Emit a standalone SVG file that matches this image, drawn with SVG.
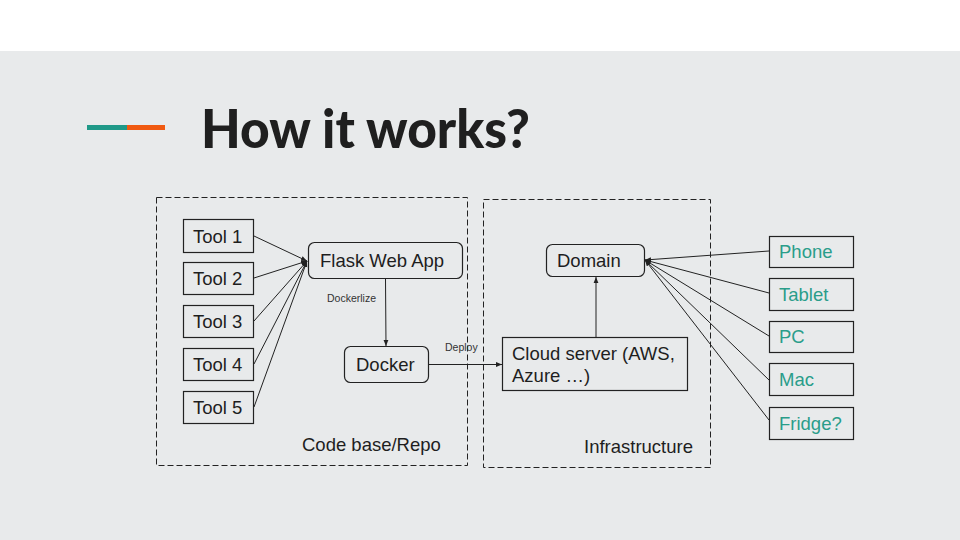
<svg xmlns="http://www.w3.org/2000/svg" width="960" height="540" viewBox="0 0 960 540">
<defs>
<style>
.box{fill:none;stroke:#222;stroke-width:1.2}
.grp{fill:none;stroke:#222;stroke-width:1;stroke-dasharray:6 3}
.t{font-family:"Liberation Sans",Arial,sans-serif;font-size:18.5px;fill:#1e1e1e}
.d{font-family:"Liberation Sans",Arial,sans-serif;font-size:18.5px;fill:#2a9d8a}
.s{font-family:"Liberation Sans",Arial,sans-serif;font-size:10.5px;fill:#333}
.c{fill:none;stroke:#222;stroke-width:1}
</style>
<marker id="ah" viewBox="0 0 10 10" refX="10" refY="5" markerWidth="6" markerHeight="6" orient="auto" markerUnits="userSpaceOnUse"><path d="M0,1 L10,5 L0,9 z" fill="#222"/></marker>
</defs>
<rect x="0" y="0" width="960" height="540" fill="#e8eaeb"/>
<rect x="0" y="0" width="960" height="51" fill="#ffffff"/>
<g id="title">
<rect x="87" y="125" width="40" height="5" fill="#1f9988"/>
<rect x="127" y="125" width="38" height="5" fill="#f05a11"/>
<text x="201" y="148" font-family="Lato,'Liberation Sans',sans-serif" font-weight="900" font-size="53" fill="#1f1f1f" textLength="329" lengthAdjust="spacingAndGlyphs">How it works?</text>
</g>
<g id="codebase"><rect class="grp" x="156.5" y="197.5" width="311" height="268"/><text class="t" x="302" y="451">Code base/Repo</text></g>
<g id="infra"><rect class="grp" x="483.5" y="199.5" width="227" height="268"/><text class="t" x="584" y="453">Infrastructure</text></g>
<g id="tool1"><rect class="box" x="183.5" y="219.5" width="70" height="33"/><text class="t" x="193" y="243">Tool 1</text></g>
<g id="tool2"><rect class="box" x="183.5" y="262.5" width="70" height="32"/><text class="t" x="193" y="285">Tool 2</text></g>
<g id="tool3"><rect class="box" x="183.5" y="305.5" width="70" height="32"/><text class="t" x="193" y="328">Tool 3</text></g>
<g id="tool4"><rect class="box" x="183.5" y="348.5" width="70" height="32"/><text class="t" x="193" y="371">Tool 4</text></g>
<g id="tool5"><rect class="box" x="183.5" y="391.5" width="70" height="32"/><text class="t" x="193" y="414">Tool 5</text></g>
<g id="flask"><rect class="box" x="308.5" y="242.5" width="154" height="36" rx="6"/><text class="t" x="320" y="267">Flask Web App</text></g>
<g id="docker"><rect class="box" x="344.5" y="346.5" width="84" height="36" rx="6"/><text class="t" x="356" y="371">Docker</text></g>
<g id="cloud"><rect class="box" x="502.5" y="337.5" width="185" height="53"/><text class="t" x="512" y="360">Cloud server (AWS,</text><text class="t" x="512" y="382">Azure …)</text></g>
<g id="domain"><rect class="box" x="546.5" y="244.5" width="98" height="32" rx="6"/><text class="t" x="557" y="267">Domain</text></g>
<g id="phone"><rect class="box" x="769.5" y="236.5" width="84" height="31"/><text class="d" x="779" y="258">Phone</text></g>
<g id="tablet"><rect class="box" x="769.5" y="278.5" width="84" height="32"/><text class="d" x="779" y="301">Tablet</text></g>
<g id="pc"><rect class="box" x="769.5" y="321.5" width="84" height="31"/><text class="d" x="779" y="343">PC</text></g>
<g id="mac"><rect class="box" x="769.5" y="363.5" width="84" height="32"/><text class="d" x="779" y="386">Mac</text></g>
<g id="fridge"><rect class="box" x="769.5" y="407.5" width="84" height="32"/><text class="d" x="779" y="430">Fridge?</text></g>
<g id="connectors">
<line class="c" x1="254" y1="236" x2="307" y2="261" marker-end="url(#ah)"/>
<line class="c" x1="254" y1="278" x2="307" y2="261" marker-end="url(#ah)"/>
<line class="c" x1="254" y1="321" x2="307" y2="261" marker-end="url(#ah)"/>
<line class="c" x1="254" y1="364" x2="307" y2="261" marker-end="url(#ah)"/>
<line class="c" x1="254" y1="407" x2="307" y2="261" marker-end="url(#ah)"/>
<line class="c" x1="385.5" y1="279" x2="386" y2="346" marker-end="url(#ah)"/>
<text class="s" x="327" y="302">Dockerlize</text>
<line class="c" x1="429" y1="364.5" x2="502" y2="364.5" marker-end="url(#ah)"/>
<text class="s" x="445" y="351">Deploy</text>
<line class="c" x1="596" y1="337" x2="596" y2="277" marker-end="url(#ah)"/>
<line class="c" x1="769" y1="251" x2="645" y2="260" marker-end="url(#ah)"/>
<line class="c" x1="769" y1="293" x2="645" y2="260" marker-end="url(#ah)"/>
<line class="c" x1="769" y1="336" x2="645" y2="260" marker-end="url(#ah)"/>
<line class="c" x1="769" y1="380" x2="645" y2="260" marker-end="url(#ah)"/>
<line class="c" x1="769" y1="420" x2="645" y2="260" marker-end="url(#ah)"/>
</g>
</svg>
